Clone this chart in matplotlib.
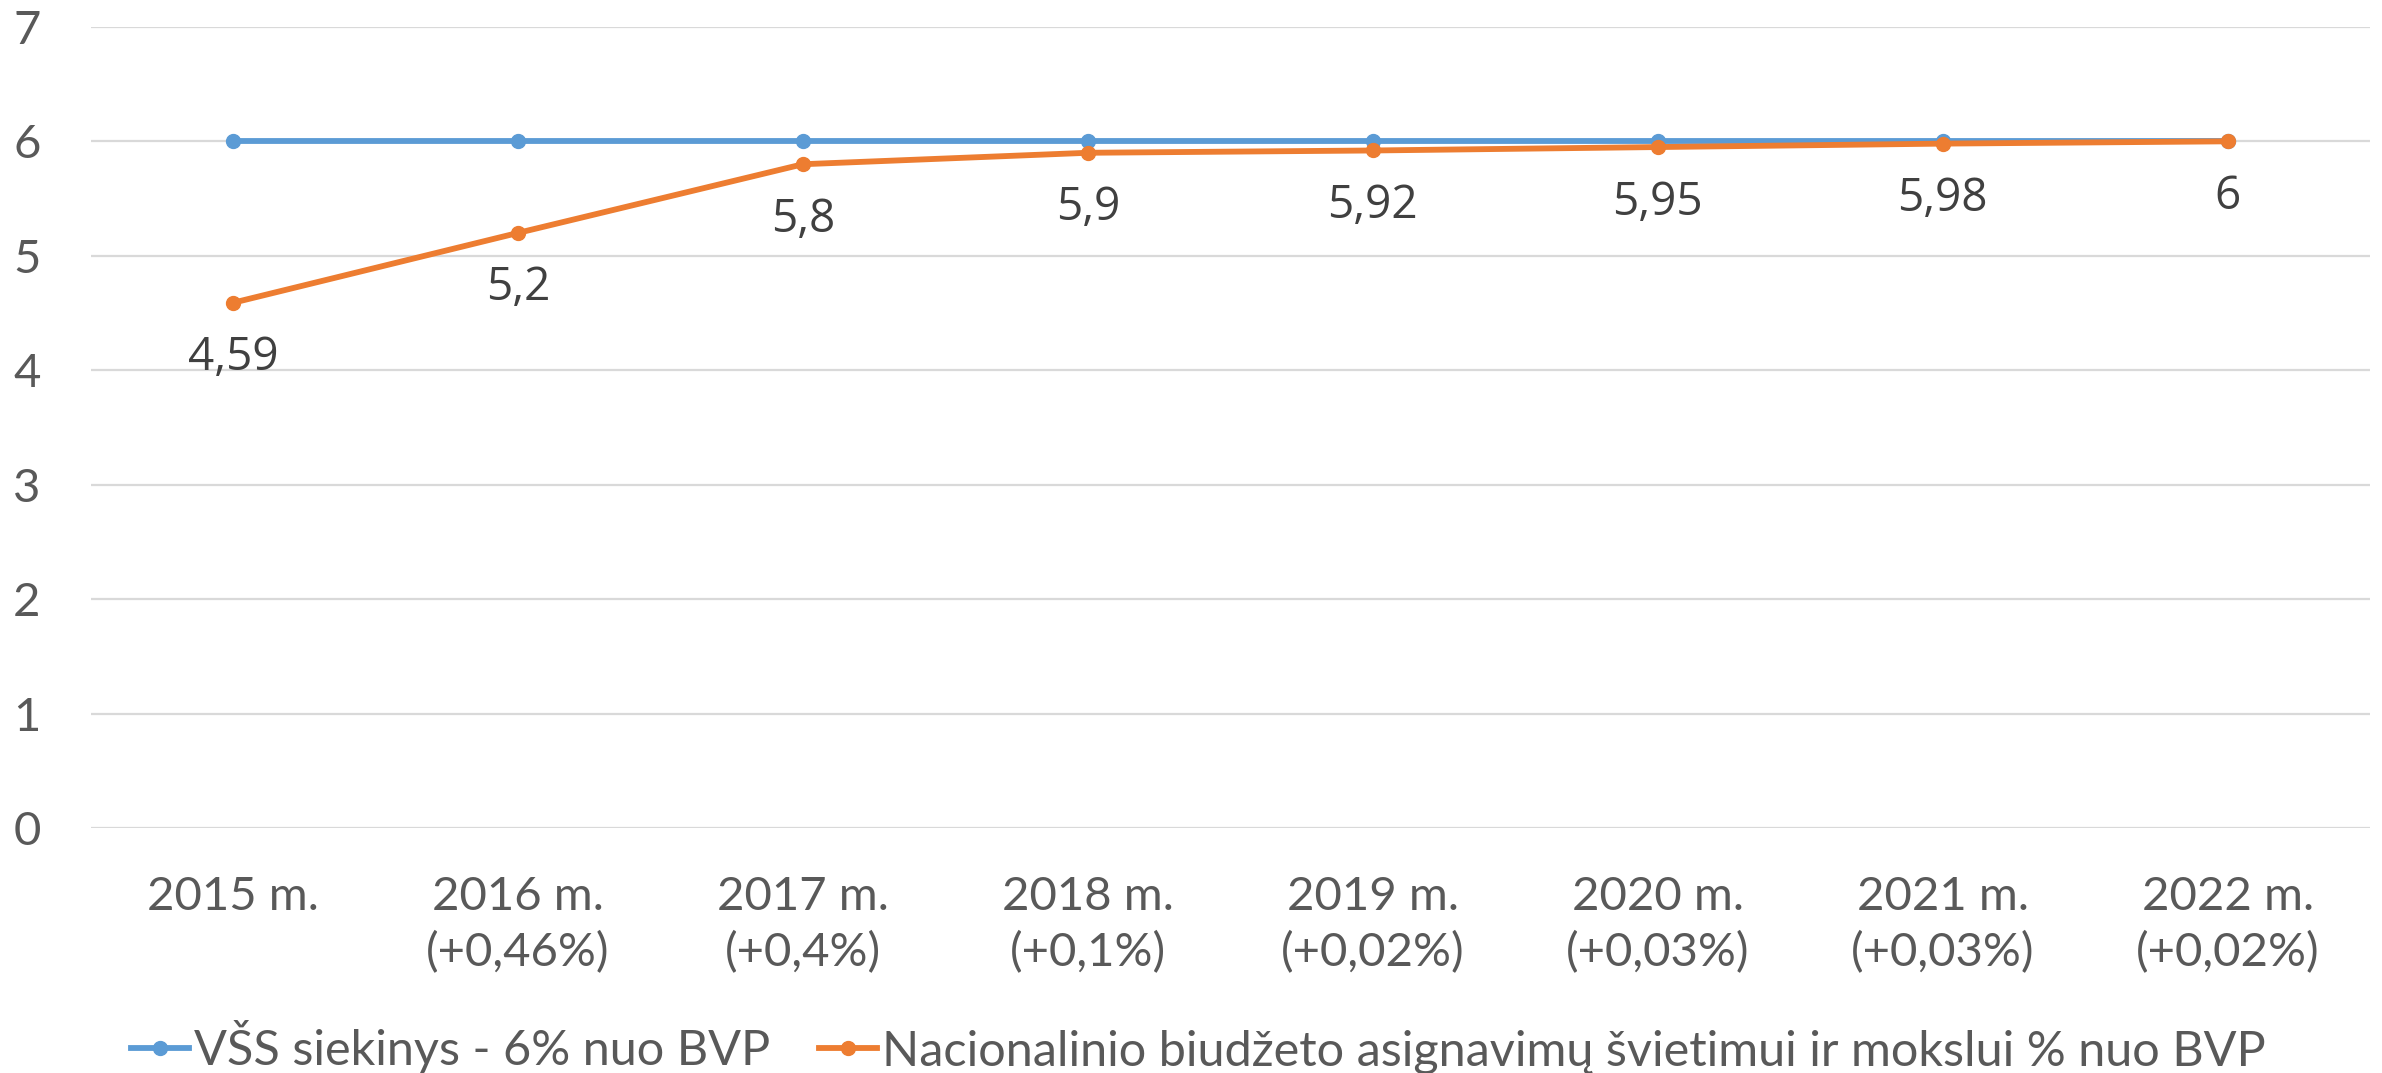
import matplotlib
matplotlib.use("Agg")
import matplotlib.pyplot as plt
import numpy as np

# chart data
years = ["2015 m.", "2016 m.\n(+0,46%)", "2017 m.\n(+0,4%)", "2018 m.\n(+0,1%)",
         "2019 m.\n(+0,02%)", "2020 m.\n(+0,03%)", "2021 m.\n(+0,03%)", "2022 m.\n(+0,02%)"]
target = [6, 6, 6, 6, 6, 6, 6, 6]
budget = [4.59, 5.2, 5.8, 5.9, 5.92, 5.95, 5.98, 6]
budget_labels = ["4,59", "5,2", "5,8", "5,9", "5,92", "5,95", "5,98", "6"]
series_names = ["VŠS siekinys - 6% nuo BVP",
                "Nacionalinio biudžeto asignavimų švietimui ir mokslui % nuo BVP"]

blue = "#5B9BD5"
orange = "#ED7D31"

fig = plt.figure(figsize=(23.82, 10.73), dpi=100)
ax = fig.add_axes([0.038, 0.228, 0.957, 0.747])

x = np.arange(len(years))
ax.plot(x, target, color=blue, lw=4.2, marker="o", ms=10, label=series_names[0], zorder=3)
ax.plot(x, budget, color=orange, lw=4.2, marker="o", ms=10, label=series_names[1], zorder=4)

for xi, yi, lab in zip(x, budget, budget_labels):
    ax.annotate(lab, (xi, yi), xytext=(0, -40), textcoords="offset points",
                ha="center", va="center", fontsize=33, color="#404040",
                family="Open Sans")

ax.set_xlim(-0.5, len(years) - 0.5)
ax.set_ylim(0, 7)
ax.set_yticks(range(0, 8))
ax.set_xticks(x)
ax.set_xticklabels(years, linespacing=1.4)
ax.grid(axis="y", color="#D9D9D9", lw=1.6)
ax.set_axisbelow(True)
for s in ax.spines.values():
    s.set_visible(False)
ax.tick_params(axis="both", length=0, labelsize=34, labelcolor="#595959")
ax.tick_params(axis="x", pad=34)
ax.tick_params(axis="y", pad=36)
for t in ax.get_xticklabels() + ax.get_yticklabels():
    t.set_family("Lato")

fig.legend(loc="center", bbox_to_anchor=(0.503, 0.024), ncol=2, frameon=False,
           handlelength=1.2, handletextpad=0.1, columnspacing=1.0,
           prop={"family": "Lato", "size": 35}, labelcolor="#595959")

fig.savefig("out.png", dpi=100)
